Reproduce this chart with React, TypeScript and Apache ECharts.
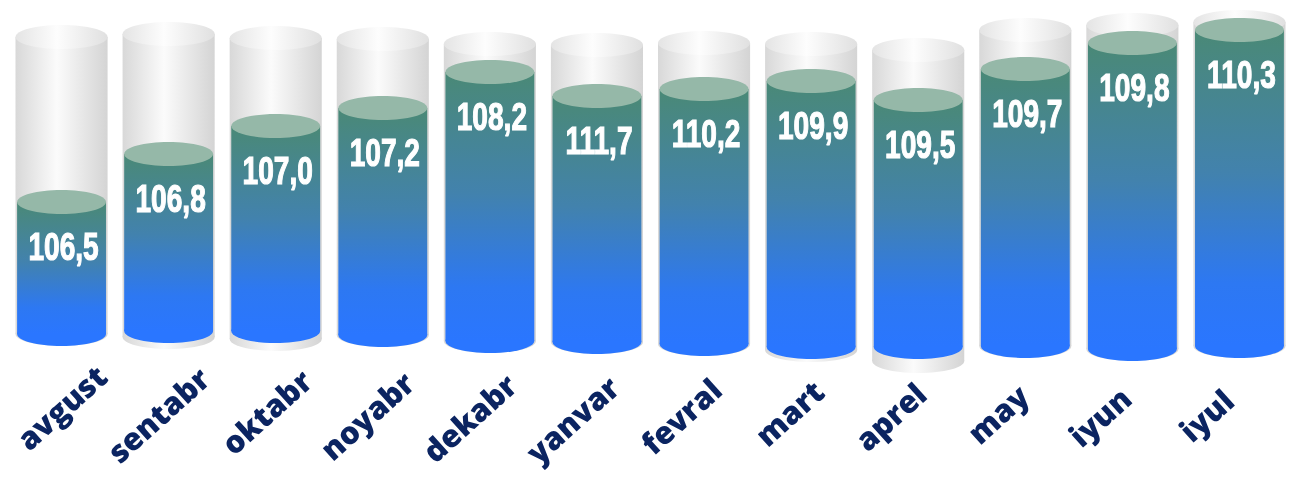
import React, { useEffect, useRef } from "react";
import * as echarts from "echarts";

// Month names (x categories)
const months = ["avgust", "sentabr", "oktabr", "noyabr", "dekabr", "yanvar", "fevral", "mart", "aprel", "may", "iyun", "iyul"];
// Printed values
const values = [106.5, 106.8, 107.0, 107.2, 108.2, 111.7, 110.2, 109.9, 109.5, 109.7, 109.8, 110.3];
// Liquid level (top of filled cylinder) as drawn, on a 0..100 picture scale
const fillTop = [49.5, 61.5, 68.5, 73, 82, 76, 77.75, 79.75, 75, 82.75, 89.25, 92.5];
// Bottom of filled cylinder
const fillBase = [16.5, 17.25, 17.25, 16.25, 14.75, 14.5, 14, 13.25, 13.25, 13.5, 12.75, 13.5];
// Top and bottom of the glass cylinders
const glassTop = [90.75, 91.5, 90.5, 90.25, 89, 88.75, 89.25, 89, 87.5, 92.5, 93.75, 94.5];
const glassBase = [16.5, 15.75, 15.25, 16.25, 14.75, 14.5, 14, 12.5, 9.75, 13.5, 12.75, 13.5];

const fmt = (v: number) => v.toFixed(1).replace(".", ",");

export default function App() {
  const ref = useRef<HTMLDivElement>(null);
  useEffect(() => {
    if (!ref.current) return;
    const chart = echarts.init(ref.current, null, { renderer: "svg" });
    const data = months.map((m, i) => [i, fillTop[i], fillBase[i], glassTop[i], glassBase[i], values[i]]);
    const RY = 12;
    const glassGrad = () =>
      new echarts.graphic.LinearGradient(0, 0, 1, 0, [
        { offset: 0, color: "#d8d8d8" },
        { offset: 0.45, color: "#fbfbfb" },
        { offset: 1, color: "#d4d4d4" },
      ]);
    const capGrad = () =>
      new echarts.graphic.LinearGradient(0, 0, 1, 0, [
        { offset: 0, color: "#e4e4e4" },
        { offset: 0.45, color: "#fdfdfd" },
        { offset: 1, color: "#e0e0e0" },
      ]);
    const fillGrad = () =>
      new echarts.graphic.LinearGradient(0, 0, 0, 1, [
        { offset: 0, color: "#4a8976" },
        { offset: 0.45, color: "#4282ad" },
        { offset: 0.8, color: "#2d78f2" },
        { offset: 1, color: "#2a76ff" },
      ]);
    const renderItem = (params: any, api: any) => {
      const i = api.value(0);
      const band = api.size([1, 0])[0];
      const [cx, yFT] = api.coord([i, api.value(1)]);
      const yFB = api.coord([i, api.value(2)])[1];
      const yGT = api.coord([i, api.value(3)])[1];
      const yGB = api.coord([i, api.value(4)])[1];
      const x0 = api.coord([0, 0])[0];
      const gw = band * 0.86;
      const fw = band * 0.83;
      const children: any[] = [
        { type: "ellipse", shape: { cx, cy: yGB, rx: gw / 2, ry: RY }, style: { fill: glassGrad() } },
        { type: "rect", shape: { x: cx - gw / 2, y: yGT, width: gw, height: yGB - yGT }, style: { fill: glassGrad() } },
        { type: "ellipse", shape: { cx, cy: yGT, rx: gw / 2, ry: RY }, style: { fill: capGrad() } },
        { type: "ellipse", shape: { cx, cy: yFB, rx: fw / 2, ry: RY }, style: { fill: "#2a76ff" } },
        { type: "rect", shape: { x: cx - fw / 2, y: yFT, width: fw, height: yFB - yFT }, style: { fill: fillGrad() } },
        { type: "ellipse", shape: { cx, cy: yFT, rx: fw / 2, ry: RY }, style: { fill: "#95b8a8" } },
        {
          type: "text",
          x: cx + 2,
          y: yFT + 44,
          scaleX: 0.72,
          style: {
            text: fmt(api.value(5)),
            fill: "#ffffff",
            stroke: "#ffffff",
            lineWidth: 1.2,
            font: "bold 39px 'Liberation Sans', Arial, sans-serif",
            align: "center",
            verticalAlign: "middle",
          },
        },
        {
          type: "text",
          x: x0 + 40 + (cx - x0) * 0.9566,
          y: 371 + 2.2 * i,
          rotation: (42 * Math.PI) / 180,
          style: {
            text: months[i],
            fill: "#0b2461",
            font: "800 31px 'Open Sans', sans-serif",
            align: "right",
            verticalAlign: "middle",
          },
        },
      ];
      return { type: "group", children };
    };
    chart.setOption({
      animation: false,
      grid: { left: 8, width: 1300, top: 0, height: 400 },
      xAxis: { type: "category", data: months, show: false },
      yAxis: { type: "value", min: 0, max: 100, show: false },
      series: [
        {
          type: "custom",
          renderItem,
          data,
          encode: { x: 0, y: [1, 2, 3, 4] },
          clip: false,
        },
      ],
    });
    return () => chart.dispose();
  }, []);
  return <div ref={ref} style={{ position: "fixed", left: 0, top: 0, width: 1293, height: 477 }} />;
}
